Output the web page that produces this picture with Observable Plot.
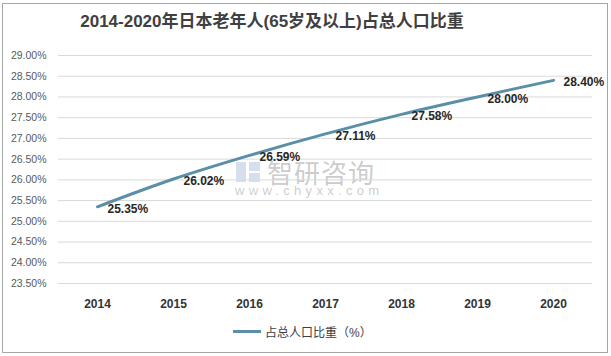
<!DOCTYPE html>
<html>
<head>
<meta charset="utf-8">
<script src="https://cdn.jsdelivr.net/npm/d3@7"></script>
<script src="https://cdn.jsdelivr.net/npm/@observablehq/plot@0.6"></script>
<style>
  html, body { margin: 0; padding: 0; background: #fff; }
  body { width: 611px; height: 356px; position: relative; overflow: hidden;
         font-family: "Liberation Sans", "Noto Sans CJK SC", sans-serif; }
  .frame { position: absolute; left: 2px; top: 3px; width: 606px; height: 350px;
           border: 1px solid #a6a6a6; box-sizing: border-box; }
  .title { position: absolute; left: 72px; top: 11px; width: 400px; text-align: center;
           font-size: 17px; font-weight: bold; line-height: 22px; color: #404040;
           font-family: "Liberation Sans", "Noto Sans CJK SC", sans-serif; }
  #chart { position: absolute; left: 0; top: 0; }
  .legend { position: absolute; left: 233px; top: 323px; height: 16px; display: flex;
            align-items: center; font-size: 12px; color: #404040; }
  .legend .sw { width: 28px; height: 3px; margin-right: 4px; }
  .wm1 { position: absolute; left: 267px; top: 157px; font-size: 26px; line-height: 30px;
         color: rgba(140,140,140,0.45); letter-spacing: 1px; font-family: "Noto Sans CJK SC", sans-serif; }
  .wm2 { position: absolute; left: 235px; top: 183px; font-size: 13px; line-height: 16px;
         color: rgba(140,140,140,0.45); letter-spacing: 4.3px; }
  .logo { position: absolute; left: 236px; top: 162px; width: 24px; height: 20px; }
</style>
</head>
<body>
<div class="frame"></div>
<div class="title">2014-2020年日本老年人(65岁及以上)占总人口比重</div>
<div class="logo">
  <div style="position:absolute;left:0;top:0;width:10px;height:20px;background:rgba(120,150,200,0.3)"></div>
  <div style="position:absolute;left:13px;top:0;width:11px;height:9px;background:rgba(120,150,200,0.3)"></div>
  <div style="position:absolute;left:13px;top:11px;width:11px;height:9px;background:rgba(120,150,200,0.3)"></div>
</div>
<div class="wm1">智研咨询</div>
<div class="wm2">www.chyxx.com</div>
<div id="chart"></div>
<div class="legend"><div class="sw" id="sw"></div><span>占总人口比重（%）</span></div>
<script>
const years = [2014, 2015, 2016, 2017, 2018, 2019, 2020];
const shares = [25.35, 26.02, 26.59, 27.11, 27.58, 28.00, 28.40];
const yTicks = [23.5, 24.0, 24.5, 25.0, 25.5, 26.0, 26.5, 27.0, 27.5, 28.0, 28.5, 29.0];
const seriesName = "占总人口比重（%）";
const lineColor = "#5b8fa8";

const data = years.map((y, i) => ({ year: y, value: shares[i] }));
document.getElementById("sw").style.background = lineColor;

const chart = Plot.plot({
  width: 611,
  height: 320,
  marginLeft: 58,
  marginRight: 19,
  marginTop: 55,
  marginBottom: 37,
  style: { fontFamily: "'Liberation Sans', 'Noto Sans CJK SC', sans-serif", overflow: "visible", background: "transparent" },
  x: { type: "point", domain: years, padding: 0.5, label: null },
  y: { domain: [23.5, 29], label: null },
  marks: [
    Plot.gridY(yTicks, { stroke: "#d9d9d9", strokeOpacity: 1 }),
    Plot.axisY(yTicks, { tickSize: 0, tickPadding: 12, tickFormat: d => d.toFixed(2) + "%", fontSize: 10.5, fill: "#595959", label: null }),
    Plot.axisX(years, { tickSize: 0, tickPadding: 16, tickFormat: d => String(d), fontSize: 12, fontWeight: "bold", fill: "#333", label: null }),
    Plot.line(data, { x: "year", y: "value", stroke: lineColor, strokeWidth: 3, curve: "catmull-rom" }),
    Plot.text(data, { x: "year", y: "value", text: d => d.value.toFixed(2) + "%", textAnchor: "start", dx: 10, dy: 2, fontSize: 12, fontWeight: "bold", fill: "#262626" })
  ]
});
document.getElementById("chart").appendChild(chart);
</script>
</body>
</html>
